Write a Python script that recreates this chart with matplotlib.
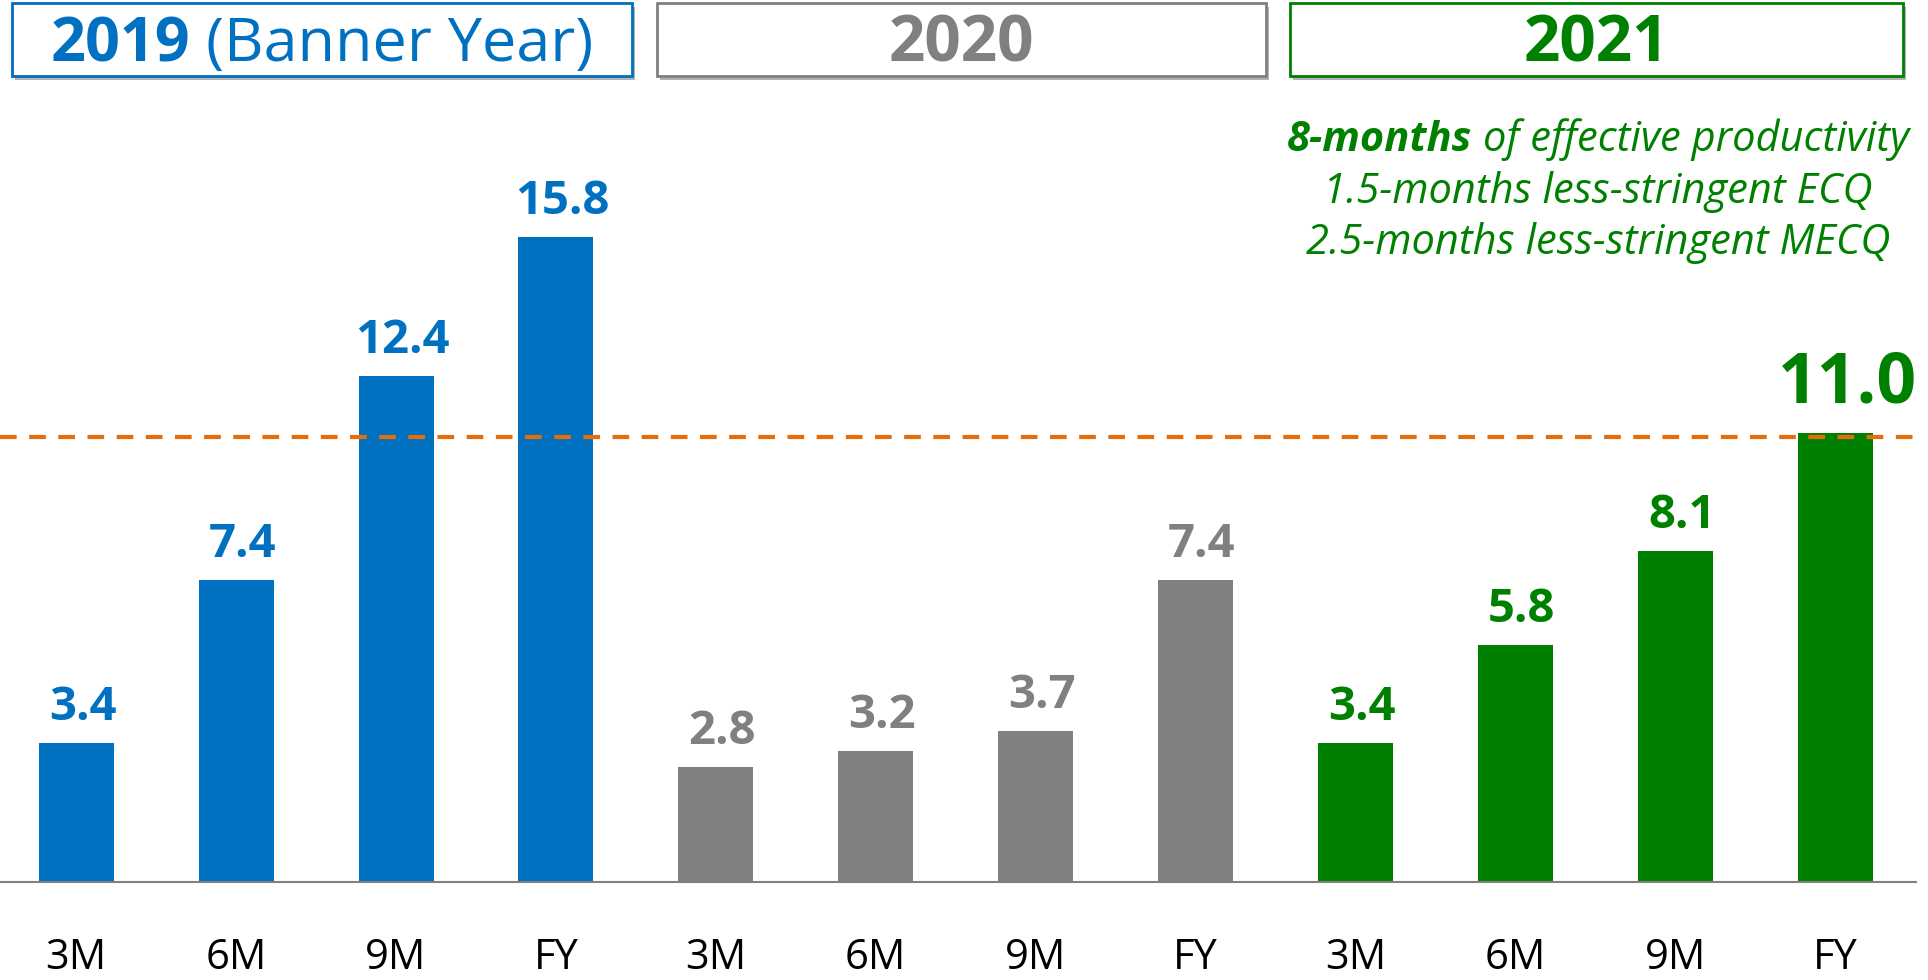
import numpy as np
import matplotlib
matplotlib.use('Agg')
import matplotlib.pyplot as plt
import matplotlib.patheffects as pe
from matplotlib.patches import Rectangle
from matplotlib.transforms import IdentityTransform

# Data
categories = ['3M', '6M', '9M', 'FY']
values_2019 = [3.4, 7.4, 12.4, 15.8]
values_2020 = [2.8, 3.2, 3.7, 7.4]
values_2021 = [3.4, 5.8, 8.1, 11.0]
reference_line = 10.9
note_lines = [
    [('8-months', 'bold'), (' of effective productivity', 'normal')],
    [('1.5-months less-stringent ECQ', 'normal')],
    [('2.5-months less-stringent MECQ', 'normal')],
]

# Style
W, H, DPI = 1928, 980, 100
BLUE = '#0070C0'
GRAY = '#808080'
GREEN = '#008000'
ORANGE = '#E46C0A'

plt.rcParams['font.family'] = ['Open Sans', 'DejaVu Sans']

fig = plt.figure(figsize=(W / DPI, H / DPI), dpi=DPI)
ax = fig.add_axes([0, 98.4 / H, 1916 / W, 816 / H])

values = values_2019 + values_2020 + values_2021
colors = [BLUE] * 4 + [GRAY] * 4 + [GREEN] * 4
x = np.arange(len(values))

ax.bar(x, values, width=0.469, color=colors, zorder=1)
ax.axhline(reference_line, color=ORANGE, lw=3, dashes=(4, 3), zorder=3)

ax.set_xlim(-0.4766, 11.506)
ax.set_ylim(0, 20)
for side in ['top', 'right', 'left']:
    ax.spines[side].set_visible(False)
ax.spines['bottom'].set_color(GRAY)
ax.spines['bottom'].set_linewidth(1.5)
ax.set_xticks([])
ax.set_yticks([])

# value labels
for i, v in enumerate(values):
    big = i == len(values) - 1
    size = 50 if big else 34
    dx = 12 if big else 6.5
    dy = 30 if big else 23
    ax.annotate(f'{v:.1f}', xy=(i, v), xytext=(dx * 0.72, dy * 0.72),
                textcoords='offset points', ha='center', va='baseline',
                fontsize=size, fontweight='bold', color=colors[i])

# category labels (kept just inside the bottom edge)
for i in x:
    ax.text(i, -87 / 816, categories[i % 4], transform=ax.get_xaxis_transform(),
            ha='center', va='baseline', fontsize=30, color='black')

renderer = fig.canvas.get_renderer()


def text_width(s, **kw):
    t = fig.text(0, 0, s, **kw)
    w = t.get_window_extent(renderer).width
    t.remove()
    return w


def centered_runs(cx, baseline, runs, color, size, style='normal'):
    # draws text pieces with different weights side by side, centred on cx
    y = H - baseline
    widths = []
    for s, weight in runs:
        kw = dict(fontsize=size, fontweight=weight, fontstyle=style)
        lead = len(s) - len(s.lstrip(' '))
        sp = text_width('x x', **kw) - text_width('xx', **kw)
        widths.append((text_width(s.strip(), **kw), lead * sp))
    total = sum(w + l for w, l in widths)
    left = cx - total / 2
    for (s, weight), (w, l) in zip(runs, widths):
        left += l
        fig.text(left, y, s.strip(), transform=IdentityTransform(), ha='left', va='baseline',
                 fontsize=size, fontweight=weight, fontstyle=style, color=color)
        left += w


# year header boxes
boxes = [
    (12, 632, BLUE, [('2019', 'bold'), (' (Banner Year)', 'normal')], 44),
    (657, 1266, GRAY, [('2020', 'bold')], 46),
    (1290, 1903, GREEN, [('2021', 'bold')], 46),
]
for x0, x1, c, runs, size in boxes:
    rect = Rectangle((x0, H - 76), x1 - x0, 73, transform=IdentityTransform(),
                     facecolor='white', edgecolor=c, lw=2)
    rect.set_path_effects([pe.SimplePatchShadow(offset=(2.5, -3), shadow_rgbFace='#808080', alpha=0.6),
                           pe.Normal()])
    fig.add_artist(rect)
    centered_runs((x0 + x1) / 2, 61, runs, c, size)

# 2021 note
for k, runs in enumerate(note_lines):
    centered_runs(1598, 151 + 51.5 * k, runs, GREEN, 30, style='italic')

fig.savefig('out.png', dpi=DPI)
